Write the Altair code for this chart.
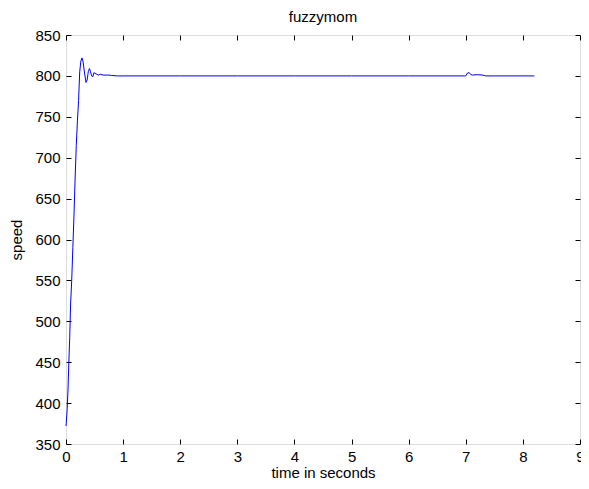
import altair as alt
import pandas as pd

time_s = [0, 0.005, 0.02, 0.035, 0.05, 0.065, 0.08, 0.10, 0.12, 0.14, 0.16, 0.18,
          0.20, 0.22, 0.24, 0.26, 0.28, 0.30, 0.32, 0.35, 0.37, 0.39, 0.41, 0.43,
          0.45, 0.47, 0.49, 0.51, 0.54, 0.57, 0.60, 0.65, 0.70, 0.75, 0.80, 0.90,
          1.0, 2.0, 3.0, 4.0, 5.0, 6.0, 6.98, 7.0, 7.03, 7.06, 7.09, 7.12, 7.2,
          7.3, 7.35, 8.2]
speed = [372, 376, 392, 416, 450, 480, 520, 550, 590, 630, 675, 715,
         745, 770, 805, 818, 822, 817, 806, 792, 795, 805, 809, 805,
         800, 799, 804, 803, 802, 801, 802, 801, 801, 801, 800.5, 800,
         800, 800, 800, 800, 800, 800, 800, 800, 803.5, 804, 801.5, 801, 801.5,
         801, 800, 800]

x_ticks = [0, 1, 2, 3, 4, 5, 6, 7, 8, 9]
y_ticks = [350, 400, 450, 500, 550, 600, 650, 700, 750, 800, 850]

df = pd.DataFrame({"t": time_s, "speed": speed})

FONT = "Liberation Sans"
FS = 15

xs = alt.Scale(domain=[0, 9], nice=False, zero=False)
ys = alt.Scale(domain=[350, 850], nice=False, zero=False)

main = alt.Chart(df).mark_line(color="#0000ff", strokeWidth=1).encode(
    x=alt.X("t:Q", scale=xs,
            axis=alt.Axis(values=x_ticks, title="time in seconds", grid=False,
                          domain=False, offset=-5, tickSize=5, tickColor="#000000",
                          labelPadding=5, labelFont=FONT, labelFontSize=FS,
                          labelColor="#000000", titleFont=FONT, titleFontSize=FS,
                          titleFontWeight="normal", titleColor="#000000",
                          titlePadding=1, labelFlush=False)),
    y=alt.Y("speed:Q", scale=ys,
            axis=alt.Axis(values=y_ticks, title="speed", grid=False,
                          domain=False, offset=-5, tickSize=5, tickColor="#000000",
                          labelPadding=6, labelFont=FONT, labelFontSize=FS,
                          labelColor="#000000", titleFont=FONT, titleFontSize=FS,
                          titleFontWeight="normal", titleColor="#000000",
                          titlePadding=10, labelFlush=False)),
)

frame = alt.Chart(df).mark_line(opacity=0).encode(
    x=alt.X("t:Q", scale=xs,
            axis=alt.Axis(orient="top", values=x_ticks, title=None, labels=False,
                          grid=False, domain=False, offset=-5, tickSize=5,
                          tickColor="#000000")),
    y=alt.Y("speed:Q", scale=ys,
            axis=alt.Axis(orient="right", values=y_ticks, title=None, labels=False,
                          grid=False, domain=False, offset=-5, tickSize=5,
                          tickColor="#000000")),
)

chart = alt.layer(main, frame).resolve_scale(x="independent", y="independent").properties(
    width=514,
    height=409,
    title=alt.TitleParams("fuzzymom", font=FONT, fontSize=FS, fontWeight="normal",
                          color="#000000", offset=3),
    autosize=alt.AutoSizeParams(type="none"),
    padding={"left": 58, "top": 27, "right": 1, "bottom": 37},
).configure_view(stroke="#000000", strokeWidth=1).configure(background="#ffffff")

chart.save("out.html", embed_options={"renderer": "svg", "actions": False})
